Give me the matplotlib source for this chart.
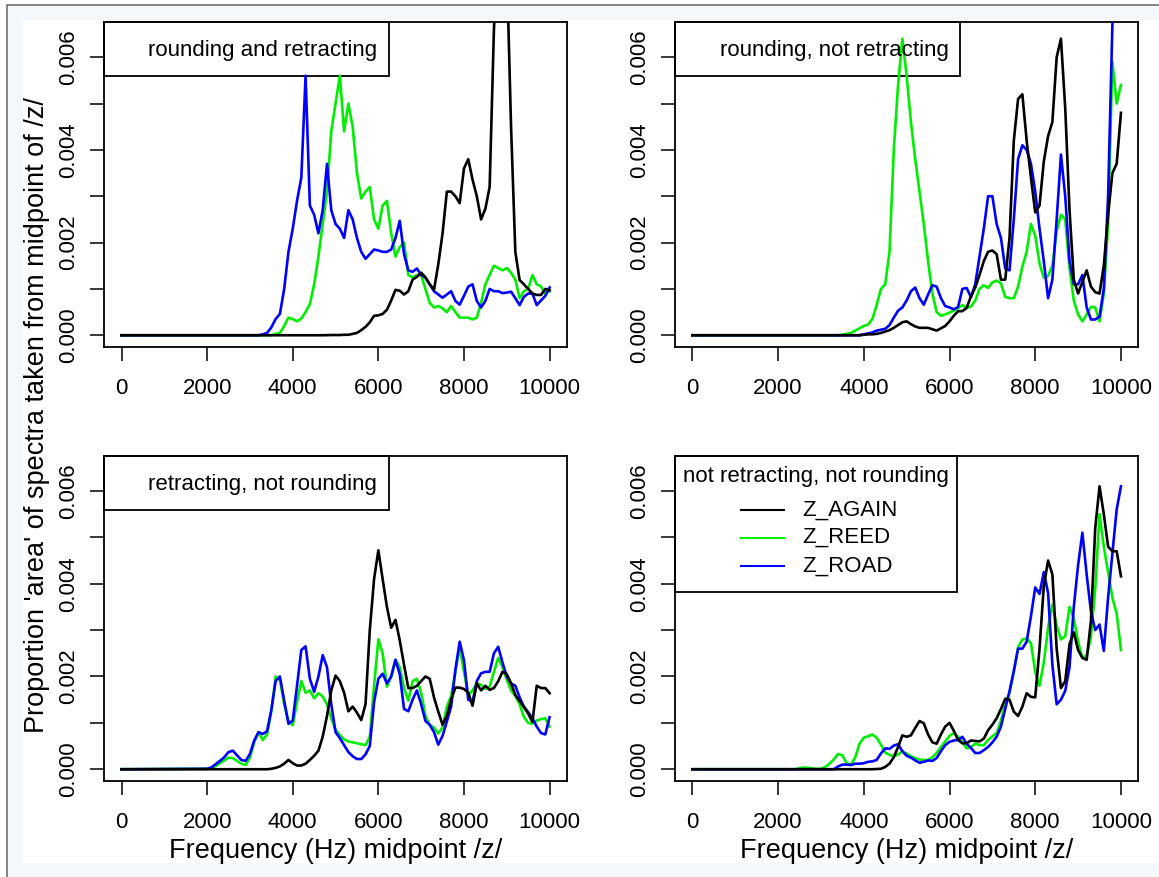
import matplotlib
matplotlib.use("Agg")
import matplotlib.pyplot as plt
from matplotlib.patches import Rectangle

plt.rcParams['font.family'] = ['Liberation Sans', 'DejaVu Sans']

# ---------------- data (values in units of 1e-4) ----------------
SCALE = 1e-4
FREQ = [0] + list(range(2000, 10001, 100))  # Hz

# Panel 1: rounding and retracting
P1_AGAIN = [0,
    0, 0, 0, 0, 0, 0, 0, 0, 0, 0,
    0, 0, 0, 0, 0, 0, 0, 0, 0, 0,
    0, 0, 0, 0, 0, 0, 0, 0, 0.02, 0.05,
    0.05, 0.05, 0.1, 0.1, 0.3, 0.5, 1.1, 1.8, 2.8, 4.2,
    4.3, 4.6, 5.5, 7.5, 9.8, 9.6, 8.8, 9.5, 12, 12.6,
    13.5, 12.5, 11, 9.8, 15.3, 22, 31, 31, 30, 28.5,
    36, 38, 33.6, 30, 25, 27.3, 32, 66, 85, 95,
    80, 45, 18, 11.9, 11, 10, 9, 8.7, 8.7, 10,
    9.7]
P1_REED = [0,
    0, 0, 0, 0, 0, 0, 0, 0, 0, 0,
    0, 0, 0, 0, 0, 0, 0.3, 0.5, 2, 3.8,
    3.5, 3, 3.6, 5, 6.7, 11, 17, 24, 31, 44,
    50, 56, 44, 50, 45, 35, 29.5, 31, 32, 25,
    23, 28, 29, 22, 17, 19, 20, 13, 12.5, 13,
    13, 10, 7, 6, 6.3, 5.8, 5, 6.3, 5, 3.8,
    3.8, 3.8, 3.4, 3.8, 7, 11, 13, 15, 14.5, 14,
    14.5, 13.5, 12, 8, 9.5, 10, 13, 11, 10.5, 9,
    9.5]
P1_ROAD = [0,
    0, 0, 0, 0, 0, 0, 0, 0, 0, 0,
    0, 0, 0, 0.2, 0.5, 1.7, 3.5, 4.6, 10, 18,
    23, 29, 34, 56, 28, 26, 22, 27, 37, 27,
    24, 23, 21, 27, 25, 21, 18, 16.5, 17.5, 18.5,
    18.3, 18, 18, 18.5, 21, 24.7, 17.5, 14, 13.7, 14.4,
    13, 12.4, 11, 9.5, 8.8, 8.1, 8.8, 9.5, 7.4, 6.6,
    8.5, 10.5, 11, 7.4, 6, 7.4, 10, 9.5, 9.5, 9.1,
    9.2, 9.4, 8, 6.5, 8.3, 9, 9, 6.5, 7.5, 8.5,
    10.3]

# Panel 2: rounding, not retracting
P2_AGAIN = [0,
    0, 0, 0, 0, 0, 0, 0, 0, 0, 0,
    0, 0, 0, 0, 0, 0, 0, 0, 0, 0,
    0.1, 0.2, 0.2, 0.3, 0.5, 0.8, 1.1, 1.6, 2.2, 2.8,
    3, 2.4, 1.9, 1.6, 1.6, 1.6, 1.3, 1, 1.5, 2,
    3, 4.2, 5.2, 5.2, 5.9, 8.4, 10.3, 13, 16, 18,
    18.3, 17.5, 12, 12, 21, 42, 51, 52, 42, 34,
    26.5, 28, 37.5, 43, 46, 60, 64, 49, 27, 12,
    9, 11.5, 14, 10.5, 9.3, 9, 15, 26, 35, 37,
    48]
P2_REED = [0,
    0, 0, 0, 0, 0, 0, 0, 0, 0, 0,
    0, 0, 0, 0, 0, 0.1, 0.3, 0.5, 1, 1.5,
    2, 2.3, 3.5, 6.5, 10, 11, 18, 40, 54, 64,
    56, 46, 38, 31, 24, 16, 9, 5, 4.2, 4.5,
    4.9, 5.3, 5.9, 6.5, 5.9, 6.2, 7.5, 10, 10.8, 10.2,
    11.4, 11.8, 11.2, 8.3, 8, 8, 10.5, 14.8, 18, 24,
    21.5, 15.5, 12.4, 12.8, 15, 22.5, 26, 25, 14.5, 7.5,
    4.5, 3, 4.5, 6.1, 6, 3, 9, 24, 59, 50,
    54]
P2_ROAD = [0,
    0, 0, 0, 0, 0, 0, 0, 0, 0, 0,
    0, 0, 0, 0, 0, 0, 0, 0, 0, 0,
    0.2, 0.4, 0.6, 1, 1.2, 1.4, 2.2, 3.8, 5.3, 6,
    7.5, 9.5, 10.3, 8, 6.6, 8.8, 10.8, 10.5, 8, 6.3,
    6, 5.6, 6.1, 10, 10.2, 8.2, 11, 17, 23, 30,
    30, 24, 21, 14.4, 14, 25, 38, 41, 40, 37,
    31, 23, 16, 8, 12, 25, 39, 30, 16, 11,
    11, 13, 6, 3.4, 3.4, 4, 10, 30, 67, 82,
    90]

# Panel 3: retracting, not rounding
P3_AGAIN = [0,
    0, 0, 0, 0, 0, 0, 0, 0, 0, 0,
    0, 0, 0, 0, 0, 0.1, 0.3, 0.6, 1.2, 2,
    1.3, 0.8, 0.8, 1.2, 2, 2.9, 4, 7, 11.5, 17,
    20.2, 19, 16.5, 12.5, 13.5, 12.2, 10.6, 14, 30, 41,
    47.2, 41, 35, 30.5, 32.2, 27.8, 22.5, 17.5, 17.5, 18,
    19, 20, 19.5, 15.5, 12.4, 9.6, 11.5, 15, 17.6, 17.6,
    17.3, 16.5, 13.7, 18.5, 17, 18, 17.1, 17.5, 19, 21,
    20.5, 18.5, 16, 14.7, 13.4, 12, 10.2, 18, 17.5, 17.5,
    16.4]
P3_REED = [0,
    0.1, 0.3, 0.7, 1.3, 1.9, 2.5, 2.4, 1.8, 1.2, 0.9,
    2.5, 5.8, 8, 6.3, 7.5, 12.5, 20, 19.3, 14, 10.4,
    9.5, 14.5, 19, 16.5, 17, 15.3, 16.4, 15.7, 14, 11,
    8.5, 7.4, 6.4, 6, 5.8, 5.6, 5.4, 5.2, 7, 18,
    28, 25, 17.8, 20, 23.6, 22, 17.5, 14.8, 19, 19.5,
    16.5, 11.5, 9.5, 9, 7.7, 9, 13.5, 15.8, 21, 26.4,
    21, 16, 17, 18.5, 18.2, 17.3, 17.8, 21, 24, 22,
    19.3, 17, 15.8, 14, 11.3, 10, 9.8, 10.5, 10.8, 11,
    9.2]
P3_ROAD = [0,
    0.1, 0.4, 1.1, 1.8, 2.6, 3.7, 4, 3, 2, 1.8,
    3.3, 6.2, 8, 7.6, 8.2, 12.8, 19, 20, 14.8, 9.8,
    10.5, 18, 25.7, 26.5, 19.5, 16.7, 20, 24.6, 22, 14,
    8, 6.7, 5.2, 3.7, 2.8, 2.2, 2.2, 3.2, 5, 14.5,
    19.5, 20.6, 18.5, 20, 23.6, 20.5, 13, 12.5, 15, 17,
    14, 10.4, 9.6, 8, 5.3, 7.2, 10.3, 13.5, 21.5, 27.5,
    23.5, 15, 14.5, 19, 20.7, 21, 21, 25, 26.4, 23,
    20, 18.5, 18, 15.5, 13.5, 12.3, 11, 9.2, 7.8, 7.5,
    11.2]

# Panel 4: not retracting, not rounding
P4_AGAIN = [0,
    0, 0, 0, 0, 0, 0, 0, 0, 0, 0,
    0, 0, 0, 0, 0, 0, 0, 0, 0, 0,
    0, 0, 0, 0.05, 0.1, 0.5, 1.2, 2.6, 4.8, 7.3,
    7, 7.3, 8.9, 10.4, 9.9, 7.5, 5.8, 5.5, 7.5, 9.2,
    10, 8.3, 6.3, 5.6, 5.6, 6.2, 6.1, 6, 6.6, 8.4,
    9.6, 11, 13, 15.2, 15, 12.4, 11.5, 13.5, 16.4, 15.6,
    15.5, 26, 39.5, 45, 42, 26, 17.5, 19, 27, 29.5,
    25.7, 24, 23.6, 32, 52, 61, 55, 48, 47, 47,
    41.6]
P4_REED = [0,
    0, 0, 0, 0, 0, 0.2, 0.4, 0.3, 0.2, 0.1,
    0.1, 0.5, 1.2, 2.1, 3.3, 3, 1.3, 1, 2.5, 5.5,
    6.8, 7.1, 7.5, 6.8, 5.3, 3.6, 3.1, 2.8, 3.2, 3.8,
    3.4, 2.8, 2.4, 2.1, 2, 2, 2.6, 3.5, 4.8, 6,
    7.2, 7.8, 7, 5.8, 4.5, 4.8, 5.5, 5.2, 5.2, 6.3,
    7.1, 7.8, 10.5, 14, 16.5, 21, 26.3, 28, 28.2, 27.2,
    21, 18, 23, 30.5, 35.5, 31, 28, 28.7, 35, 32.5,
    27.5, 24, 24.5, 28.5, 39, 55, 48, 42.5, 37, 33.6,
    25.7]
P4_ROAD = [0,
    0, 0, 0, 0, 0, 0, 0, 0, 0, 0,
    0, 0, 0, 0, 0.6, 1, 1, 0.9, 1.2, 1.2,
    1.3, 1.6, 1.7, 2, 3.4, 4.5, 4.4, 5.1, 5.4, 3.9,
    2.9, 2.5, 1.9, 1.4, 1.6, 1.9, 1.8, 2.4, 3.9, 5.2,
    5.9, 6.2, 6.3, 7, 5.5, 4.6, 3.5, 3.5, 4.1, 4.8,
    5.8, 7, 9.2, 13, 16.8, 21.2, 26, 26, 27.5, 33,
    39.2, 37.8, 42.5, 38, 22.5, 14, 15, 16.9, 22, 35,
    44, 51, 42, 34, 30, 31.2, 25.5, 37, 46.5, 56,
    61]

PANEL_TITLES = ["rounding and retracting", "rounding, not retracting",
                "retracting, not rounding", "not retracting, not rounding"]
SERIES_NAMES = ["Z_AGAIN", "Z_REED", "Z_ROAD"]
PANELS = [
    (P1_AGAIN, P1_REED, P1_ROAD),
    (P2_AGAIN, P2_REED, P2_ROAD),
    (P3_AGAIN, P3_REED, P3_ROAD),
    (P4_AGAIN, P4_REED, P4_ROAD),
]
X_TICKS = [0, 2000, 4000, 6000, 8000, 10000]
Y_TICKS = [0, 0.001, 0.002, 0.003, 0.004, 0.005, 0.006]
Y_TICKLABELS = ["0.000", "", "0.002", "", "0.004", "", "0.006"]
XLABEL = "Frequency (Hz) midpoint /z/"
YLABEL = "Proportion 'area' of spectra taken from midpoint of /z/"

# ---------------- styling ----------------
COLORS = {"Z_AGAIN": "#000000", "Z_REED": "#00ee00", "Z_ROAD": "#0000ff"}
W, H = 1159, 877
FS = 16

fig = plt.figure(figsize=(W / 100, H / 100), dpi=100)
fig.patch.set_facecolor("white")
fig.patches.append(Rectangle((7 / W, -0.1), 1.2, 1.1 - 5 / H, transform=fig.transFigure,
                             facecolor="#f4f8fb", edgecolor="#6e6e6e", lw=1.2, zorder=-10))
fig.patches.append(Rectangle((22 / W, 1 - 863 / H), 1.0, (863 - 20) / H, transform=fig.transFigure,
                             facecolor="white", edgecolor="none", zorder=-9))


def px_rect(l, t, r, b):
    return [l / W, 1 - b / H, (r - l) / W, (b - t) / H]


boxes = [(104.4, 22, 566.7, 347.3), (675.2, 22, 1138.1, 347.3),
         (104.4, 455.7, 566.7, 781.3), (675.2, 455.7, 1138.1, 781.3)]

axes = []
for i, (box, series) in enumerate(zip(boxes, PANELS)):
    ax = fig.add_axes(px_rect(*box))
    ax.set_facecolor("none")
    again, reed, road = series
    for name, vals in (("Z_REED", reed), ("Z_ROAD", road), ("Z_AGAIN", again)):
        ax.plot(FREQ, [v * SCALE for v in vals], color=COLORS[name], lw=1.9, zorder=3)
    ax.set_xlim(-400, 10400)
    ax.set_ylim(-0.00026, 0.00676)
    ax.set_xticks(X_TICKS)
    ax.set_xticklabels([str(t) for t in X_TICKS])
    ax.set_yticks(Y_TICKS)
    ax.set_yticklabels(Y_TICKLABELS)
    ax.tick_params(axis="both", direction="out", length=9.8, width=1.1, labelsize=FS, color="black")
    ax.tick_params(axis="x", pad=12.5)
    ax.tick_params(axis="y", pad=8.5, labelrotation=90)
    for lab in ax.get_yticklabels():
        lab.set_verticalalignment("center")
    for sp in ax.spines.values():
        sp.set_linewidth(1.3)
        sp.set_color("black")
    axes.append(ax)

# legend / title boxes
title_specs = [
    dict(right=0.6154, bottom=0.833, tx=0.5897, ty=0.9118, ha="right"),
    dict(right=0.6144, bottom=0.833, tx=0.5904, ty=0.9118, ha="right"),
    dict(right=0.6154, bottom=0.8332, tx=0.5897, ty=0.912, ha="right"),
    dict(right=0.6088, bottom=0.5823, tx=0.3031, ty=0.9355, ha="center"),
]
for ax, title, spec in zip(axes, PANEL_TITLES, title_specs):
    ax.add_patch(Rectangle((0, spec["bottom"]), spec["right"], 1 - spec["bottom"],
                           transform=ax.transAxes, facecolor="none", edgecolor="black",
                           lw=1.3, zorder=2, clip_on=False))
    ax.text(spec["tx"], spec["ty"], title, transform=ax.transAxes, ha=spec["ha"],
            va="center", fontsize=FS, zorder=4)

ax4 = axes[3]
row_y = [0.8332, 0.7482, 0.6622]
for name, yy in zip(SERIES_NAMES, row_y):
    ax4.plot([0.1422, 0.2344], [yy, yy], transform=ax4.transAxes, color=COLORS[name],
             lw=1.5, zorder=4, clip_on=False)
    ax4.text(0.274, yy, name, transform=ax4.transAxes, ha="left", va="center",
             fontsize=FS, zorder=4)

# axis labels
for box in boxes[2:]:
    cx = (box[0] + box[2]) / 2 / W
    fig.text(cx, 1 - 858 / H, XLABEL, ha="center", va="baseline", fontsize=19.5)
fig.text(37 / W, 1 - 415 / H, YLABEL, rotation=90, ha="center", va="center", fontsize=19.5)

fig.savefig("out.png", dpi=100)
